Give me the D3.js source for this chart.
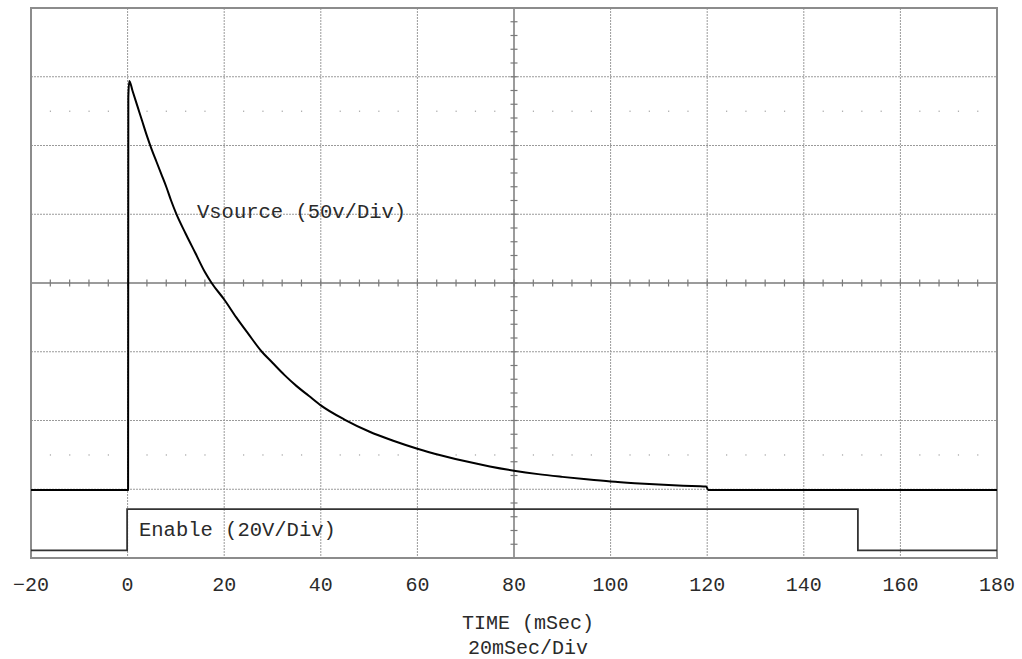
<!DOCTYPE html>
<html>
<head>
<meta charset="utf-8">
<script src="https://cdn.jsdelivr.net/npm/d3@7"></script>
<style>
  html, body { margin: 0; padding: 0; background: #fff; }
  svg { display: block; }
  text { font-family: "Courier New", "Liberation Mono", monospace; fill: #2a2a2a; }
</style>
</head>
<body>
<svg id="chart" width="1022" height="659"></svg>
<script>
// ---- data ----
const timeTicks = [-20, 0, 20, 40, 60, 80, 100, 120, 140, 160, 180];        // mSec
const divTicks = [-4, -3, -2, -1, 0, 1, 2, 3, 4];                               // vertical divisions

// Vsource trace, 50 V/Div, ground 3 divisions below centre
const vsourceTime  = [-20, 0.1, 0.15, 0.35, 1, 2, 3, 4, 5, 6, 7, 8, 9, 10, 12, 14, 16, 17.4, 20, 22.5, 25, 27.8, 30, 32.5, 35, 37.5, 40, 45, 50, 55, 60, 65, 70, 75, 80, 85, 90, 95, 100, 105, 110, 115, 119.8, 120.2, 180];
const vsourceVolts = [-0.5, -0.5, 285, 297, 290, 279, 268, 257, 247, 238, 229, 220, 210, 201, 186, 172, 158, 150, 138, 125, 113, 100, 92, 83, 75, 68, 61, 50.5, 42, 35.3, 29.5, 24.6, 20.3, 16.6, 13.5, 11, 9, 7.2, 5.6, 4.4, 3.4, 2.6, 2.0, -0.5, -0.5];
const vsourceVoltsPerDiv = 50;
const vsourceGroundDiv = -3;

// Enable trace, 20 V/Div
const enableTime  = [-20, -0.1, -0.1, 151.2, 151.2, 180];
const enableVolts = [0, 0, 12, 12, 0, 0];
const enableVoltsPerDiv = 20;
const enableGroundDiv = -3.89;

const labels = {
  vsource: "Vsource (50v/Div)",
  enable: "Enable (20V/Div)",
  xTitle: "TIME (mSec)",
  xScale: "20mSec/Div"
};

// ---- layout ----
const plotL = 31, plotR = 997, plotT = 8, plotB = 558;
const svg = d3.select("#chart");

const x = d3.scaleLinear().domain([-20, 180]).range([plotL, plotR]);
const y = d3.scaleLinear().domain([-4, 4]).range([plotB, plotT]);

const gridColor = "#9a9a9a";
const axisColor = "#7a7a7a";

// grid lines (dotted)
const grid = svg.append("g");
timeTicks.slice(1, -1).filter(t => t !== 80).forEach(t => {
  grid.append("line")
    .attr("x1", x(t)).attr("x2", x(t)).attr("y1", plotT).attr("y2", plotB)
    .attr("stroke", gridColor).attr("stroke-width", 1).attr("stroke-dasharray", "2,1");
});
divTicks.slice(1, -1).filter(d => d !== 0).forEach(d => {
  grid.append("line")
    .attr("x1", plotL).attr("x2", plotR).attr("y1", y(d)).attr("y2", y(d))
    .attr("stroke", gridColor).attr("stroke-width", 1).attr("stroke-dasharray", "2,1");
});

// minor dot rows at +2.5 and -2.5 div
const minorX = d3.range(-20, 180.001, 4).filter(t => (t + 20) % 20 !== 0);
[2.5, -2.5].forEach(d => {
  grid.selectAll(null).data(minorX).enter().append("rect")
    .attr("x", t => x(t) - 0.5).attr("y", y(d) - 0.5)
    .attr("width", 1.2).attr("height", 1.2).attr("fill", "#a0a0a0");
});

// centre axes (solid, with minor ticks)
const axes = svg.append("g");
axes.append("line").attr("x1", plotL).attr("x2", plotR).attr("y1", y(0)).attr("y2", y(0))
  .attr("stroke", axisColor).attr("stroke-width", 1.5);
axes.append("line").attr("x1", x(80)).attr("x2", x(80)).attr("y1", plotT).attr("y2", plotB)
  .attr("stroke", axisColor).attr("stroke-width", 1.5);
const hTicks = d3.range(-20, 180.001, 4).slice(1, -1);
axes.selectAll(null).data(hTicks).enter().append("line")
  .attr("x1", t => x(t)).attr("x2", t => x(t))
  .attr("y1", y(0) - 3.5).attr("y2", y(0) + 3.5)
  .attr("stroke", axisColor).attr("stroke-width", 1.2);
const vTicks = d3.range(-4, 4.001, 0.2).slice(1, -1);
axes.selectAll(null).data(vTicks).enter().append("line")
  .attr("x1", x(80) - 3.5).attr("x2", x(80) + 3.5)
  .attr("y1", d => y(d)).attr("y2", d => y(d))
  .attr("stroke", axisColor).attr("stroke-width", 1.2);

// frame
svg.append("rect").attr("x", plotL).attr("y", plotT)
  .attr("width", plotR - plotL).attr("height", plotB - plotT)
  .attr("fill", "none").attr("stroke", "#8c8c8c").attr("stroke-width", 2);

// traces
const vsData = vsourceTime.map((t, i) => [t, vsourceGroundDiv + vsourceVolts[i] / vsourceVoltsPerDiv]);
const enData = enableTime.map((t, i) => [t, enableGroundDiv + enableVolts[i] / enableVoltsPerDiv]);
const stepLine = d3.line().x(d => x(d[0])).y(d => y(d[1])).curve(d3.curveLinear);
const smoothLine = d3.line().x(d => x(d[0])).y(d => y(d[1])).curve(d3.curveMonotoneX);

svg.append("path").datum(enData).attr("d", stepLine)
  .attr("fill", "none").attr("stroke", "#333").attr("stroke-width", 1.8);
svg.append("path").datum(vsData).attr("d", smoothLine)
  .attr("fill", "none").attr("stroke", "#000").attr("stroke-width", 2)
  .attr("stroke-linejoin", "round");

// trace labels
svg.append("text").attr("x", 197).attr("y", 218).attr("font-size", 20.5).text(labels.vsource);
svg.append("text").attr("x", 139).attr("y", 536).attr("font-size", 20.5).text(labels.enable);

// x tick labels
svg.selectAll(null).data(timeTicks).enter().append("text")
  .attr("x", t => x(t)).attr("y", 591).attr("text-anchor", "middle").attr("font-size", 20)
  .text(t => t < 0 ? "\u2212" + Math.abs(t) : String(t));

// axis titles
svg.append("text").attr("x", 528).attr("y", 629).attr("text-anchor", "middle").attr("font-size", 20).text(labels.xTitle);
svg.append("text").attr("x", 528).attr("y", 654).attr("text-anchor", "middle").attr("font-size", 20).text(labels.xScale);
</script>
</body>
</html>
